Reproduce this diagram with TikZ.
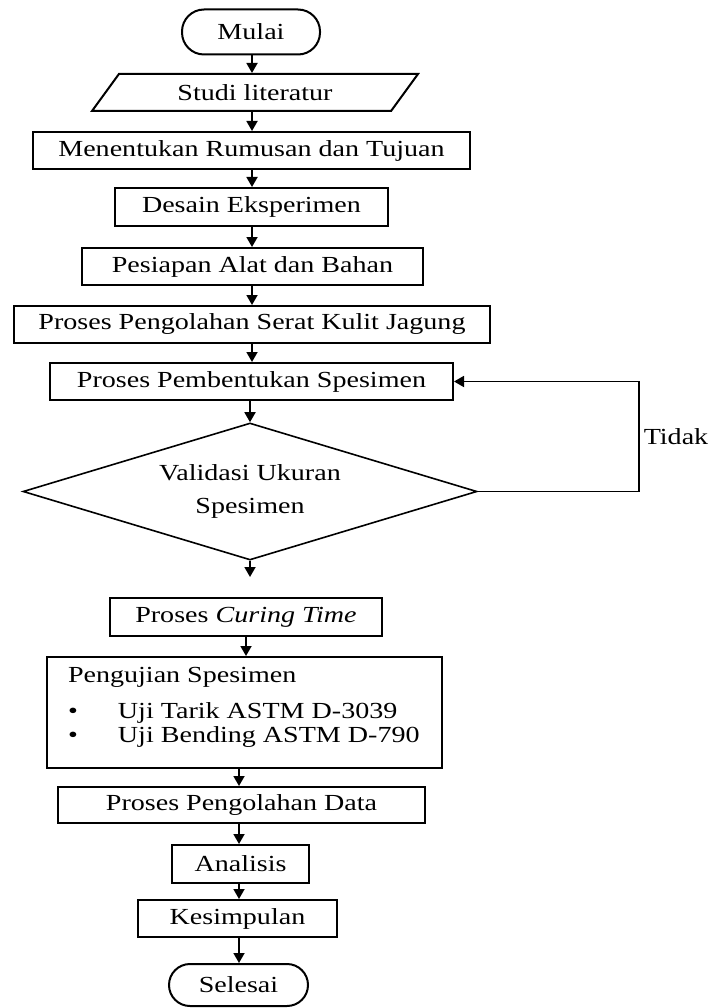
\documentclass[tikz,border=0pt]{standalone}
\usepackage{fontspec}
\setmainfont{Liberation Serif}[FakeStretch = 1.22]
\usetikzlibrary{shapes.geometric,arrows.meta}

\begin{document}
\begin{tikzpicture}[x = 1pt, y = -1pt,
        font = \fontsize{23}{33}\selectfont,
        >= {Triangle[length=10pt, width=11pt]},
        line width = 2pt,
        kotak/.style = {draw, rectangle, inner sep = 0pt, minimum height = 37pt},
        ujung/.style = {draw, rectangle, rounded corners = 22pt, inner sep = 0pt, minimum height = 45pt},
        panah/.style = {->, line width = 1.8pt}]
        \useasboundingbox (0, 0) rectangle (713, 1008);
        \coordinate (tengah) at (252, 0);
        \coordinate (bawah) at (239, 0);
        \node [ujung, minimum width = 138pt] (mulai) at (251, 32) {Mulai};
        \node [draw, trapezium, trapezium left angle = 31, trapezium right angle = 149, trapezium stretches body,
            inner sep = 0pt, minimum width = 326pt, minimum height = 37pt] (studi) at (255, 92.5) {Studi literatur};
        \node [kotak, minimum width = 437pt] (rumusan) at (251.5, 150.5) {Menentukan Rumusan dan Tujuan};
        \node [kotak, minimum width = 273pt, minimum height = 38pt] (desain) at (251.5, 207) {Desain Eksperimen};
        \node [kotak, minimum width = 341pt] (alat) at (252.5, 266.5) {Pesiapan Alat dan Bahan};
        \node [kotak, minimum width = 476pt] (serat) at (252, 324.5) {Proses Pengolahan Serat Kulit Jagung};
        \node [kotak, minimum width = 403pt] (bentuk) at (251.5, 381.5) {Proses Pembentukan Spesimen};
        \node [draw, diamond, aspect = 3.3, inner sep = 0pt, minimum width = 454pt, minimum height = 137pt,
            align = center, line width = 1.6pt] (validasi) at (250, 491.5) {Validasi Ukuran\\Spesimen};
        \node (tidak) at (676, 437) {Tidak};
        \node [kotak, minimum width = 272pt, minimum height = 38pt] (curing) at (246, 617) {Proses \textit{Curing Time}};
        \node [kotak, minimum width = 395pt, minimum height = 111pt] (uji) at (244.5, 712.5) {};
        \node [anchor = west, inner sep = 0pt] (ujijudul) at (67, 677) {Pengujian Spesimen};
        \node [anchor = west, inner sep = 0pt, align = left, font = \fontsize{23}{24}\selectfont] (daftar) at (67, 725)
            {\makebox[50pt][l]{\textbullet}Uji Tarik ASTM D-3039\\\makebox[50pt][l]{\textbullet}Uji Bending ASTM D-790};
        \node [kotak, minimum width = 367pt, minimum height = 36pt] (data) at (241.5, 805) {Proses Pengolahan Data};
        \node [kotak, minimum width = 137pt, minimum height = 38pt] (analisis) at (240.5, 864) {Analisis};
        \node [kotak, minimum width = 199pt] (simpulan) at (237.5, 918.5) {Kesimpulan};
        \node [ujung, minimum width = 139pt, minimum height = 42pt, rounded corners = 21pt] (selesai) at (238.5, 985) {Selesai};
        \draw [panah] (mulai.south -| tengah) -- (studi.north -| tengah);
        \draw [panah] (studi.south -| tengah) -- (rumusan.north -| tengah);
        \draw [panah] (rumusan.south -| tengah) -- (desain.north -| tengah);
        \draw [panah] (desain.south -| tengah) -- (alat.north -| tengah);
        \draw [panah] (alat.south -| tengah) -- (serat.north -| tengah);
        \draw [panah] (serat.south -| tengah) -- (bentuk.north -| tengah);
        \draw [panah] (bentuk.south -| validasi.north) -- (validasi.north);
        \draw [panah, shorten >= 20pt] (validasi.south) -- (validasi.south |- curing.north);
        \draw [panah] (curing.south) -- (curing.south |- uji.north);
        \draw [panah] (uji.south -| bawah) -- (data.north -| bawah);
        \draw [panah] (data.south -| bawah) -- (analisis.north -| bawah);
        \draw [panah] (analisis.south -| bawah) -- (simpulan.north -| bawah);
        \draw [panah] (simpulan.south -| bawah) -- (selesai.north -| bawah);
        \draw [panah] (validasi.east) -- ++(161, 0) |- (bentuk.east);
\end{tikzpicture}
\end{document}
